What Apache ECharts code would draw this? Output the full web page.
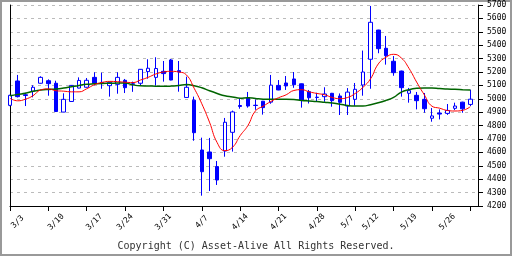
<!DOCTYPE html>
<html>
<head>
<meta charset="utf-8">
<script src="https://cdn.jsdelivr.net/npm/echarts@6/dist/echarts.min.js"></script>
<style>
html, body { margin: 0; padding: 0; background: #fff; }
#main { width: 512px; height: 256px; }
</style>
</head>
<body>
<div id="main"></div>
<script>
// 日付 (最後の1本は空き)
var dates = ['2/28','3/3','3/4','3/5','3/6','3/7','3/10','3/11','3/12','3/13','3/14',
  '3/17','3/18','3/19','3/21','3/24','3/25','3/26','3/27','3/28','3/31','4/1','4/2','4/3','4/4',
  '4/7','4/8','4/9','4/10','4/11','4/14','4/15','4/16','4/17','4/18','4/21','4/22','4/23','4/24','4/25',
  '4/28','4/30','5/1','5/2','5/7','5/8','5/9','5/12','5/13','5/14','5/15','5/16',
  '5/19','5/20','5/21','5/22','5/23','5/26','5/27','5/28','5/29','5/30'];
var tickLabels = ['3/3','3/10','3/17','3/24','3/31','4/7','4/14','4/21','4/28','5/7','5/12','5/19','5/26'];

var opens  = [4951,5133,5030,5056,5116,5135,5116,4901,4980,5080,5086,5160,5122,5098,5108,5138,5112,5116,5203,5160,
  5205,5290,5210,5010,4990,4618,4603,4494,4610,4750,4950,5009,4952,4982,4975,5100,5118,5148,5112,5053,
  5012,5016,5041,5021,4946,4996,5103,5295,5513,5377,5280,5207,5041,5026,4996,4855,4894,4891,4929,4975,4958];
var closes = [5026,5016,5025,5086,5160,5113,4905,4996,5100,5137,5138,5116,5120,5123,5160,5083,5108,5220,5228,5226,
  5188,5140,5200,5086,4747,4456,4553,4394,4825,4902,4943,4946,4950,4934,5102,5066,5096,5105,4991,5008,
  5010,5036,4986,4974,5050,5071,5200,5571,5374,5322,5195,5083,5061,4986,4926,4872,4886,4913,4946,4925,4997];
var lows   = [4945,5010,4946,5011,5114,5023,4903,4900,4978,5078,5084,5101,5075,5016,5038,5043,5052,5099,5150,5098,
  5128,5138,5053,5008,4687,4277,4312,4357,4568,4606,4926,4934,4918,4882,4963,5064,5066,5082,4934,4965,
  4978,4978,4941,4879,4879,4948,5023,5075,5340,5255,5172,5016,4971,4921,4896,4829,4846,4880,4916,4896,4946];
var highs  = [5030,5178,5045,5101,5168,5145,5135,5041,5103,5160,5155,5198,5195,5128,5198,5148,5128,5222,5295,5310,
  5282,5298,5282,5165,5016,4710,4708,4536,4857,4912,5000,5051,4995,4984,5178,5140,5170,5200,5114,5066,
  5045,5086,5044,5040,5080,5118,5360,5693,5515,5469,5319,5210,5081,5051,5043,4931,4921,4961,4971,4978,5068];

// 移動平均 (短期:赤 / 長期:緑)
var maShort = [5004,4985,4997,5023,5066,5074,5060,5057,5052,5052,5075,5105,5122,5130,5128,5124,5121,5140,5160,5185,
  5200,5205,5200,5178,5079,4963,4826,4673,4613,4638,4725,4800,4910,4945,4980,5008,5030,5062,5068,5052,
  5040,5030,5010,5001,5010,5040,5085,5150,5260,5310,5332,5305,5228,5125,5030,4945,4930,4913,4909,4914,4941];
var maLong  = [5023,5033,5041,5056,5065,5070,5073,5080,5090,5100,5108,5112,5115,5116,5117,5118,5104,5097,5096,5094,
  5093,5095,5100,5106,5098,5082,5060,5040,5022,5014,5005,5008,5002,4997,4996,4996,4996,4995,4988,4984,
  4980,4974,4968,4960,4950,4946,4946,4956,4970,4988,5010,5050,5068,5078,5081,5081,5076,5073,5071,5068,5065];

var chart = echarts.init(document.getElementById('main'));

var candles = [];
for (var i = 0; i < opens.length; i++) {
  candles.push([opens[i], closes[i], lows[i], highs[i]]);
}

var font = 'DejaVu Sans Mono';

var option = {
  animation: false,
  backgroundColor: '#fff',
  grid: { left: 10, right: 34, top: 5, bottom: 50, outerBoundsMode: 'none' },
  xAxis: {
    type: 'category',
    data: dates,
    boundaryGap: false,
    axisLine: { lineStyle: { color: '#000', width: 1 } },
    axisTick: { interval: 4, length: 5, lineStyle: { color: '#000' } },
    axisLabel: {
      interval: function (index, value) { return tickLabels.indexOf(value) >= 0; },
      rotate: 45,
      align: 'center',
      verticalAlign: 'middle',
      margin: 16,
      color: '#000',
      fontFamily: font,
      fontSize: 8
    },
    splitLine: { show: false }
  },
  yAxis: [{
    type: 'value',
    position: 'right',
    min: 4200,
    max: 5700,
    interval: 100,
    axisLine: { show: true, lineStyle: { color: '#000', width: 1 } },
    axisTick: { show: true, length: 5, lineStyle: { color: '#000' } },
    axisLabel: {
      margin: 9, color: '#000', fontFamily: font, fontSize: 8,
      formatter: function (v) { return String(v); }
    },
    splitLine: { show: true, lineStyle: { color: '#bbb', type: [3, 4], width: 1 } }
  }, {
    type: 'value',
    position: 'left',
    min: 4200,
    max: 5700,
    axisLine: { show: true, lineStyle: { color: '#000', width: 1 } },
    axisTick: { show: false },
    axisLabel: { show: false },
    splitLine: { show: false }
  }],
  series: [{
    type: 'candlestick',
    data: candles,
    barWidth: 4,
    clip: false,
    itemStyle: {
      color: '#fff',
      color0: '#0000ff',
      borderColor: '#0000ff',
      borderColor0: '#0000ff',
      borderWidth: 1
    }
  }, {
    type: 'line',
    data: maLong,
    showSymbol: false,
    smooth: true,
    lineStyle: { color: '#006400', width: 1.5 },
    z: 3
  }, {
    type: 'line',
    data: maShort,
    showSymbol: false,
    smooth: true,
    lineStyle: { color: '#ff0000', width: 1 },
    z: 4
  }],
  graphic: [{
    type: 'rect',
    shape: { x: 1, y: 1, width: 510, height: 254 },
    style: { fill: null, stroke: '#999', lineWidth: 2 },
    silent: true
  }, {
    type: 'text',
    left: 'center',
    top: 241,
    style: {
      text: 'Copyright (C) Asset-Alive All Rights Reserved.',
      fill: '#333',
      font: '10px "DejaVu Sans Mono"'
    }
  }]
};

chart.setOption(option);
</script>
</body>
</html>
